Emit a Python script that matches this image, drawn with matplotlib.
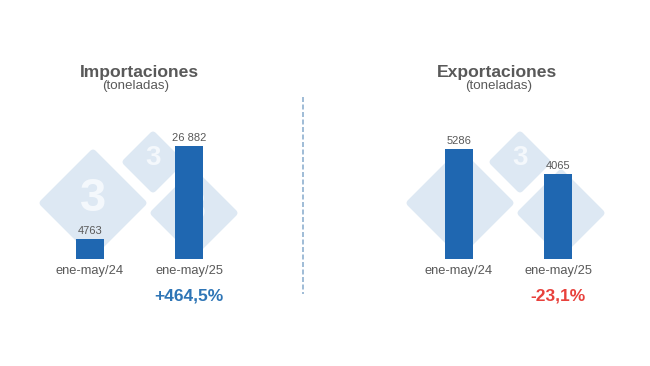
import matplotlib
matplotlib.use('Agg')
import matplotlib.pyplot as plt
from matplotlib.patches import Polygon
from matplotlib.lines import Line2D

plt.rcParams['font.family'] = ['Liberation Sans', 'DejaVu Sans']

periods = ['ene-may/24', 'ene-may/25']
imports = [4763, 26882]
exports = [5286, 4065]
import_labels = ['4763', '26 882']
export_labels = ['5286', '4065']
import_change = '+464,5%'
export_change = '-23,1%'

W, H = 650, 366
BAR = '#1f67b1'
GREY = '#595959'
WM = '#dde8f3'

fig = plt.figure(figsize=(W / 100, H / 100), dpi=100)
fig.patch.set_facecolor('white')


def fx(px):
    return px / W


def fy(py):
    return 1 - py / H


# watermark logo: three rounded diamonds with a "3"
def diamond(cx, cy, r, size):
    pts = [(fx(cx - r), fy(cy)), (fx(cx), fy(cy - r)),
           (fx(cx + r), fy(cy)), (fx(cx), fy(cy + r))]
    p = Polygon(pts, closed=True, transform=fig.transFigure, facecolor=WM,
                edgecolor=WM, linewidth=5, joinstyle='round', zorder=-2)
    fig.patches.append(p)
    fig.text(fx(cx), fy(cy - 4), '3', color='#f4f8fc', fontsize=size,
             fontweight='bold', ha='center', va='center', zorder=-1)


for shift in [0, 367]:
    diamond(93 + shift, 203, 50, 34)
    diamond(153 + shift, 162, 27, 20)
    diamond(194 + shift, 213, 40, 30)


def panel(left_px, values, labels, change, change_color, ymax):
    # axis spans px left_px..left_px+200, baseline at y=259, top at y=100
    ax = fig.add_axes([fx(left_px), fy(259), fx(200), (259 - 100) / H])
    ax.patch.set_alpha(0)
    x = list(range(len(values)))
    ax.bar(x, values, width=0.275, color=BAR, zorder=2)
    ax.set_xlim(-0.505, 1.515)
    ax.set_ylim(0, ymax)
    for xi, v, lab in zip(x, values, labels):
        ax.annotate(lab, (xi, v), xytext=(0, 2.5), textcoords='offset points',
                    ha='center', va='bottom', fontsize=8, color=GREY)
    ax.set_xticks(x)
    ax.set_xticklabels(periods, fontsize=9.3, color=GREY)
    ax.tick_params(axis='x', length=0, pad=4)
    ax.set_yticks([])
    for s in ax.spines.values():
        s.set_visible(False)
    ax.annotate(change, (1, 0), xytext=(0, -21), textcoords='offset points',
                ha='center', va='top', fontsize=12.5, fontweight='bold',
                color=change_color, annotation_clip=False)
    return ax


panel(40, imports, import_labels, import_change, '#2e75b6',
      26882 * 159 / 113)
panel(409, exports, export_labels, export_change, '#e8413c',
      5286 * 159 / 110)

fig.text(fx(139), fy(72), 'Importaciones', ha='center', va='center',
         fontsize=12.6, fontweight='bold', color=GREY)
fig.text(fx(136), fy(86), '(toneladas)', ha='center', va='center',
         fontsize=9.6, color=GREY)
fig.text(fx(497), fy(72), 'Exportaciones', ha='center', va='center',
         fontsize=12.6, fontweight='bold', color=GREY)
fig.text(fx(499), fy(86), '(toneladas)', ha='center', va='center',
         fontsize=9.6, color=GREY)

# dashed divider
fig.add_artist(Line2D([fx(303), fx(303)], [fy(97), fy(294)],
                      transform=fig.transFigure, color='#8fb0d0',
                      linewidth=1.2, linestyle=(0, (3, 1.5))))

fig.savefig('out.png', dpi=100)
